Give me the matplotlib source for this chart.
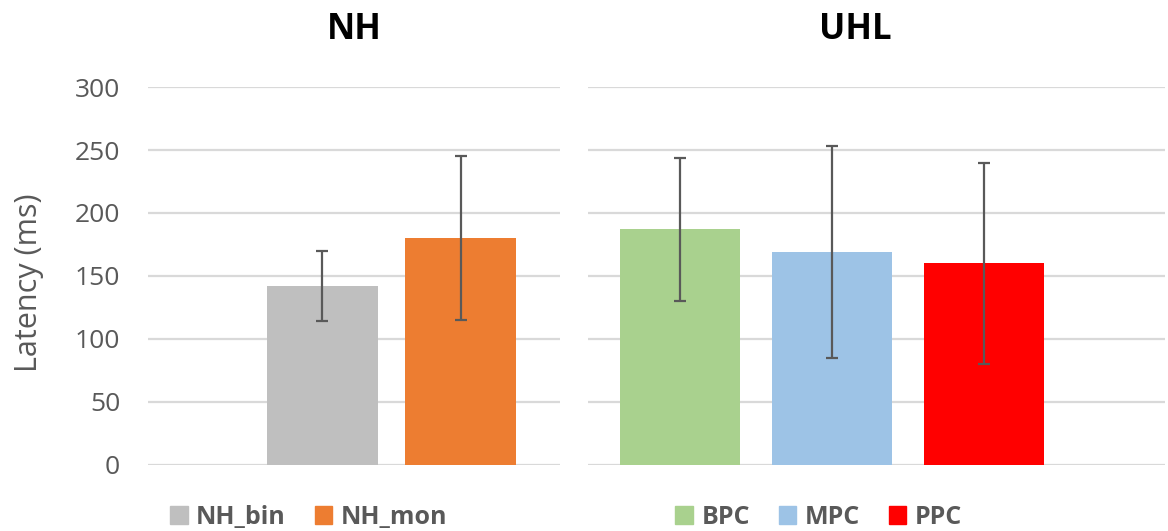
import numpy as np
import matplotlib
matplotlib.use("Agg")
import matplotlib.pyplot as plt
from matplotlib.patches import Patch

plt.rcParams["font.family"] = ["Open Sans", "DejaVu Sans"]

# NH group
nh_labels = ["NH_bin", "NH_mon"]
nh_means = [142, 180]
nh_sd = [28, 65]
nh_colors = ["#BFBFBF", "#ED7D31"]

# UHL group
uhl_labels = ["BPC", "MPC", "PPC"]
uhl_means = [187, 169, 160]
uhl_sd = [57, 84, 80]
uhl_colors = ["#A9D18E", "#9DC3E6", "#FF0000"]

yticks = [0, 50, 100, 150, 200, 250, 300]

grey_txt = "#595959"
grid_col = "#D9D9D9"
err_col = "#595959"

fig = plt.figure(figsize=(11.68, 5.31), dpi=100)
ax1 = fig.add_axes([0.1267, 0.125, 0.3527, 0.711])
ax2 = fig.add_axes([0.5034, 0.125, 0.4940, 0.711])

err_kw = dict(ecolor=err_col, elinewidth=1.6, capsize=4, capthick=1.6)

x1 = np.arange(1, len(nh_labels) + 1)
ax1.bar(x1, nh_means, width=0.8, color=nh_colors, yerr=nh_sd,
        error_kw=err_kw, zorder=2)
ax1.set_xlim(-0.26, 2.717)

x2 = np.arange(len(uhl_labels))
ax2.bar(x2, uhl_means, width=0.79, color=uhl_colors, yerr=uhl_sd,
        error_kw=err_kw, zorder=2)
ax2.set_xlim(-0.605, 3.19)

for ax in (ax1, ax2):
    ax.set_ylim(0, 300)
    ax.set_yticks(yticks)
    ax.set_xticks([])
    for s in ax.spines.values():
        s.set_visible(False)
    ax.grid(axis="y", color=grid_col, linewidth=1.6, zorder=0)
    ax.set_axisbelow(True)
    ax.tick_params(axis="y", length=0, pad=20, labelsize=19,
                   labelcolor=grey_txt)

ax2.tick_params(axis="y", labelleft=False)

fig.text(29 / 1168, 1 - 283 / 531, "Latency (ms)", rotation=90,
         ha="center", va="center", fontsize=22, color=grey_txt)

fig.text(354 / 1168, 1 - 30 / 531, "NH", ha="center", va="center",
         fontsize=25, fontweight="bold", color="black")
fig.text(855 / 1168, 1 - 30 / 531, "UHL", ha="center", va="center",
         fontsize=25, fontweight="bold", color="black")

leg_kw = dict(frameon=False, ncol=3, fontsize=18, handlelength=0.7,
              handleheight=0.7, handletextpad=0.35, columnspacing=1.15,
              borderaxespad=0, borderpad=0, loc="center left")

h1 = [Patch(color=c, label=l) for l, c in zip(nh_labels, nh_colors)]
leg1 = fig.legend(handles=h1, bbox_to_anchor=(170 / 1168, 1 - 517 / 531),
                  **leg_kw)
h2 = [Patch(color=c, label=l) for l, c in zip(uhl_labels, uhl_colors)]
leg2 = fig.legend(handles=h2, bbox_to_anchor=(675 / 1168, 1 - 517 / 531),
                  **leg_kw)
for leg in (leg1, leg2):
    for t in leg.get_texts():
        t.set_color(grey_txt)
        t.set_fontweight("bold")

fig.savefig("out.png", dpi=100)
